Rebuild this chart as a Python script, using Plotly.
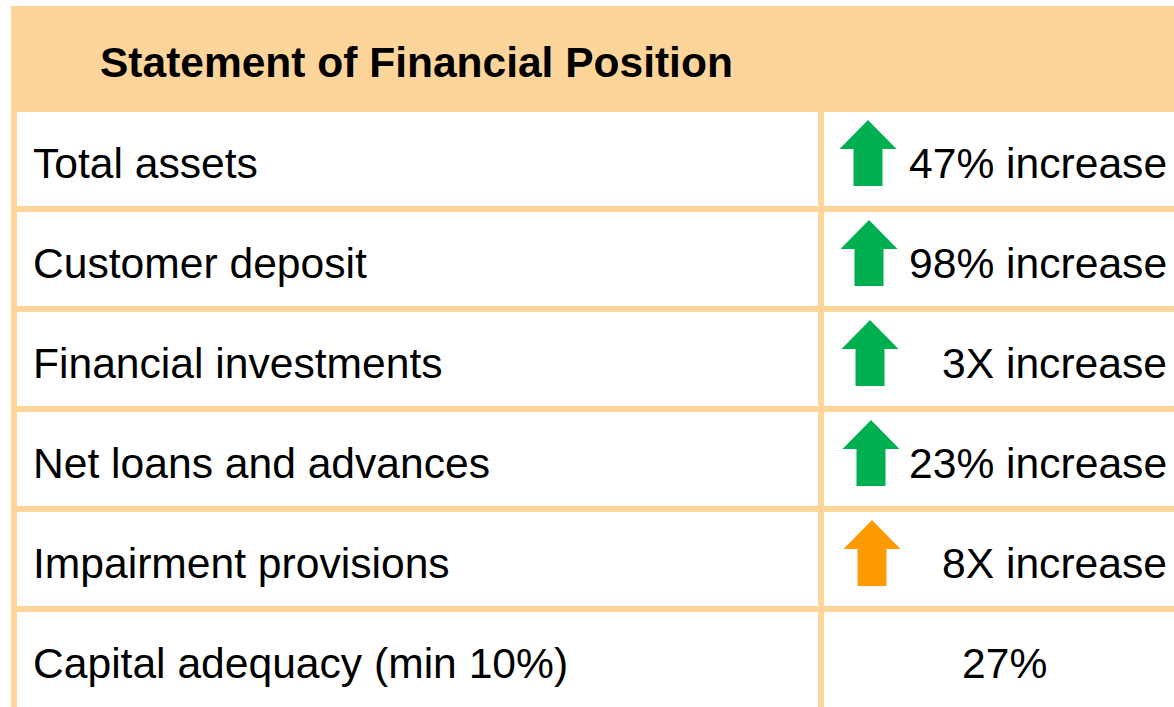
import plotly.graph_objects as go

# Table content
title = "Statement of Financial Position"
metrics = [
    "Total assets",
    "Customer deposit",
    "Financial investments",
    "Net loans and advances",
    "Impairment provisions",
    "Capital adequacy (min 10%)",
]
changes = ["47% increase", "98% increase", "3X increase", "23% increase", "8X increase", "27%"]
arrow_colors = ["#00B050", "#00B050", "#00B050", "#00B050", "#FF9900", None]

PEACH = "#FDD49A"
FONT = "Liberation Sans, Arial, sans-serif"

W, H = 1174, 707
LEFT, TOP = 11, 6          # outer peach frame
HEADER_BOTTOM = 112
ROW_H = 100                # row pitch incl. separator
GAP = 6                    # separator thickness
DIVIDER = 818              # left edge of the vertical divider

fig = go.Figure()
shapes = []
annotations = []

# peach frame / header background
shapes.append(dict(type="rect", xref="x", yref="y", x0=LEFT, x1=W + 10, y0=TOP, y1=H + 10,
                   fillcolor=PEACH, line_width=0, layer="below"))

for i, (name, change, color) in enumerate(zip(metrics, changes, arrow_colors)):
    top = HEADER_BOTTOM + i * ROW_H
    bottom = top + ROW_H - GAP
    if i == len(metrics) - 1:
        bottom = H + 10   # last row runs off the bottom edge
    # two white cells
    shapes.append(dict(type="rect", xref="x", yref="y", x0=LEFT + GAP, x1=DIVIDER, y0=top, y1=bottom,
                       fillcolor="white", line_width=0, layer="below"))
    shapes.append(dict(type="rect", xref="x", yref="y", x0=DIVIDER + GAP, x1=W + 10, y0=top, y1=bottom,
                       fillcolor="white", line_width=0, layer="below"))
    cy = top + 51
    annotations.append(dict(x=31, y=cy, xref="x", yref="y", text=name, showarrow=False,
                            xanchor="left", yanchor="middle",
                            font=dict(family=FONT, size=42.6, color="black")))
    if color is None:
        annotations.append(dict(x=1004, y=cy, xref="x", yref="y", text=change, showarrow=False,
                                xanchor="center", yanchor="middle",
                                font=dict(family=FONT, size=42.6, color="black")))
        continue
    annotations.append(dict(x=1169, y=cy, xref="x", yref="y", text=change, showarrow=False,
                            xanchor="right", yanchor="middle",
                            font=dict(family=FONT, size=42.6, color="black")))
    # block arrow pointing up
    ax, tip, base = 868 + i, top + 8, top + 74
    head = tip + 29
    xs = [ax, ax + 28.5, ax + 14.5, ax + 14.5, ax - 14.5, ax - 14.5, ax - 28.5, ax]
    ys = [tip, head, head, base, base, head, head, tip]
    fig.add_trace(go.Scatter(x=xs, y=ys, mode="lines", fill="toself", fillcolor=color,
                             line=dict(width=0, color=color), hoverinfo="skip", showlegend=False))

annotations.append(dict(x=98, y=62, xref="x", yref="y", text="<b>" + title + "</b>", showarrow=False,
                        xanchor="left", yanchor="middle",
                        font=dict(family=FONT, size=42.5, color="black")))

fig.update_layout(
    width=W, height=H,
    margin=dict(l=0, r=0, t=0, b=0),
    paper_bgcolor="white", plot_bgcolor="white",
    xaxis=dict(range=[0, W], visible=False, fixedrange=True),
    yaxis=dict(range=[H, 0], visible=False, fixedrange=True),
    shapes=shapes,
    annotations=annotations,
    showlegend=False,
)

# drop the default page margin so the figure sits at the window origin
fig.write_html("out.html", config={"displayModeBar": False},
               post_script="document.body.style.margin='0';document.body.style.overflow='hidden';")
